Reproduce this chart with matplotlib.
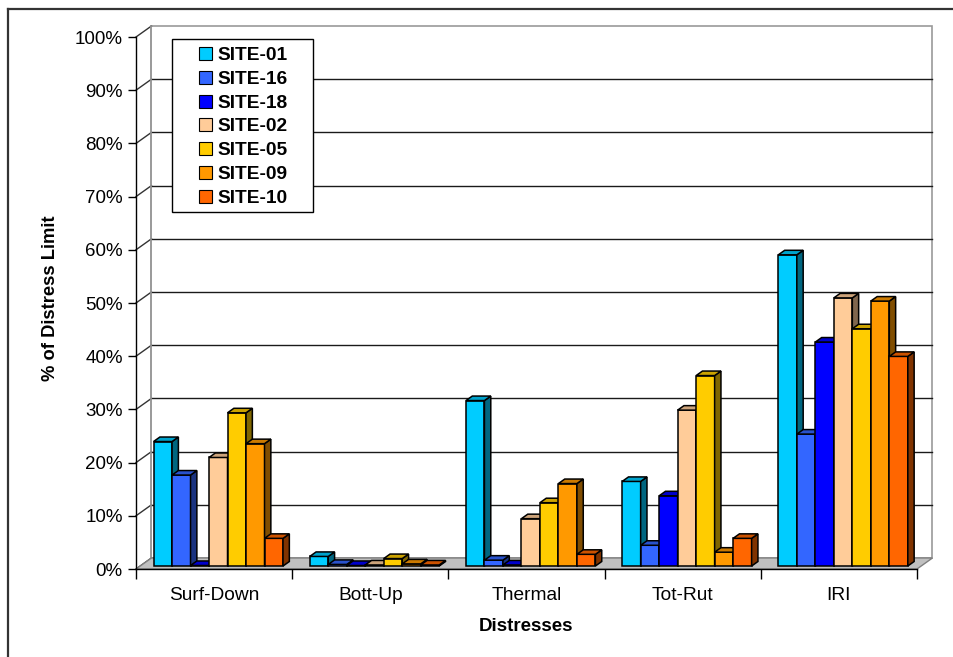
import numpy as np
import matplotlib
matplotlib.use('Agg')
import matplotlib.pyplot as plt
from matplotlib.patches import Polygon, Rectangle
from matplotlib.colors import to_rgb

plt.rcParams['font.family'] = ['Liberation Sans', 'DejaVu Sans']

# 数据
categories = ['Surf-Down', 'Bott-Up', 'Thermal', 'Tot-Rut', 'IRI']
sites = ['SITE-01', 'SITE-16', 'SITE-18', 'SITE-02', 'SITE-05', 'SITE-09', 'SITE-10']
site01 = [23.4, 1.8, 31.1, 15.9, 58.5]
site16 = [17.1, 0.3, 1.1, 3.9, 24.8]
site18 = [0.1, 0.1, 0.2, 13.2, 42.1]
site02 = [20.4, 0.2, 8.9, 29.3, 50.4]
site05 = [28.8, 1.4, 11.9, 35.8, 44.6]
site09 = [23.0, 0.4, 15.5, 2.6, 49.8]
site10 = [5.2, 0.2, 2.2, 5.2, 39.4]
series = [site01, site16, site18, site02, site05, site09, site10]
colors = ['#00CCFF', '#3366FF', '#0000FF', '#FFCC99', '#FFCC00', '#FF9900', '#FF6600']
y_ticks = np.arange(0, 101, 10)

W, H = 954, 657


def fxy(px, py):
    # 像素 -> figure 坐标
    return px / W, 1 - py / H


def shade(c, k):
    r, g, b = to_rgb(c)
    return (r * k, g * k, b * k)


fig = plt.figure(figsize=(W / 100, H / 100), dpi=100)
ax = fig.add_axes([136 / W, (H - 569) / H, 781 / W, 532 / H])
ax.set_xlim(0, len(categories))
ax.set_ylim(0, 100)
ax.patch.set_visible(False)

# 三维深度 (数据单位)
dx, dy = 0.099, 2.07
f1, f2 = 0.27, 0.68
n_cat = len(categories)

# 后墙、地板、左墙
ax.add_patch(Polygon([(dx, dy), (n_cat + dx, dy), (n_cat + dx, 100 + dy), (dx, 100 + dy)],
                     closed=True, facecolor='white', edgecolor='#999999', lw=1.2,
                     zorder=0.5, clip_on=False))
ax.add_patch(Polygon([(0, 0), (n_cat, 0), (n_cat + dx, dy), (dx, dy)], closed=True,
                     facecolor='#C0C0C0', edgecolor='#808080', lw=1.0, zorder=1,
                     clip_on=False))
for v in y_ticks:
    if 0 < v < 100:
        ax.plot([dx, n_cat + dx], [v + dy, v + dy], color='#1a1a1a', lw=1.0,
                zorder=0.8, clip_on=False)
    ax.plot([0, dx], [v, v + dy], color='#333333', lw=1.0, zorder=0.8, clip_on=False)
ax.plot([dx, dx], [dy, 100 + dy], color='#999999', lw=1.2, zorder=0.9, clip_on=False)

# 柱子
w = 0.1184
gap = (1 - len(sites) * w) / 2
ddx, ddy = (f2 - f1) * dx, (f2 - f1) * dy
base = f1 * dy
x0 = np.arange(n_cat) + gap + f1 * dx
for i, (vals, c) in enumerate(zip(series, colors)):
    z = 3 + i * 0.01
    xs = x0 + i * w
    ax.bar(xs, vals, width=w, bottom=base, align='edge', color=c,
           edgecolor='black', linewidth=1.1, zorder=z, clip_on=False)
    for x, v in zip(xs, vals):
        top = base + v
        xr = x + w
        side = [(xr, base), (xr + ddx, base + ddy), (xr + ddx, top + ddy), (xr, top)]
        ax.add_patch(Polygon(side, closed=True, facecolor=shade(c, 0.5),
                             edgecolor='black', lw=1.1, zorder=z + 0.002, clip_on=False))
        lid = [(x, top), (xr, top), (xr + ddx, top + ddy), (x + ddx, top + ddy)]
        ax.add_patch(Polygon(lid, closed=True, facecolor=shade(c, 0.8),
                             edgecolor='black', lw=1.1, zorder=z + 0.004, clip_on=False))

# 坐标轴
for s in ['top', 'right']:
    ax.spines[s].set_visible(False)
for s in ['left', 'bottom']:
    ax.spines[s].set_color('black')
    ax.spines[s].set_linewidth(1.0)
    ax.spines[s].set_zorder(2)

ax.set_yticks(y_ticks)
ax.set_yticklabels([f'{v}%' for v in y_ticks])
ax.tick_params(axis='y', direction='out', length=6, width=1.0, pad=3.5, labelsize=13.5)

ax.set_xticks(np.arange(n_cat) + 0.5)
ax.set_xticklabels(categories)
ax.set_xticks(np.arange(n_cat + 1), minor=True)
ax.tick_params(axis='x', which='major', length=0, pad=13, labelsize=13.8)
ax.tick_params(axis='x', which='minor', direction='out', length=7.5, width=1.0)

ax.set_ylabel('% of Distress Limit', fontsize=13.2, fontweight='bold')
ax.yaxis.set_label_coords(-0.098, 0.509)
ax.set_xlabel('Distresses', fontsize=13.5, fontweight='bold')
ax.xaxis.set_label_coords(0.5, -0.092)

# 图例
lx0, ly0 = fxy(172, 212)
lx1, ly1 = fxy(313, 39)
fig.patches.append(Rectangle((lx0, ly0), lx1 - lx0, ly1 - ly0, transform=fig.transFigure,
                             facecolor='white', edgecolor='black', lw=1.0, zorder=10))
for k, (name, c) in enumerate(zip(sites, colors)):
    yb = 60 + k * 23.8
    mx0, my0 = fxy(199.5, yb)
    mx1, my1 = fxy(212.5, yb - 13)
    fig.patches.append(Rectangle((mx0, my0), mx1 - mx0, my1 - my0, transform=fig.transFigure,
                                 facecolor=c, edgecolor='black', lw=0.8, zorder=11))
    tx, ty = fxy(217, yb)
    fig.text(tx, ty, name, fontsize=13.8, fontweight='bold', va='baseline', ha='left',
             zorder=12)

# 外框
bx, by = fxy(8, 9)
fig.add_artist(plt.Line2D([bx, bx], [by, 0], transform=fig.transFigure, color='#333333', lw=1.6))
fig.add_artist(plt.Line2D([bx, 1], [by, by], transform=fig.transFigure, color='#333333', lw=1.6))

fig.savefig('out.png', dpi=100)
